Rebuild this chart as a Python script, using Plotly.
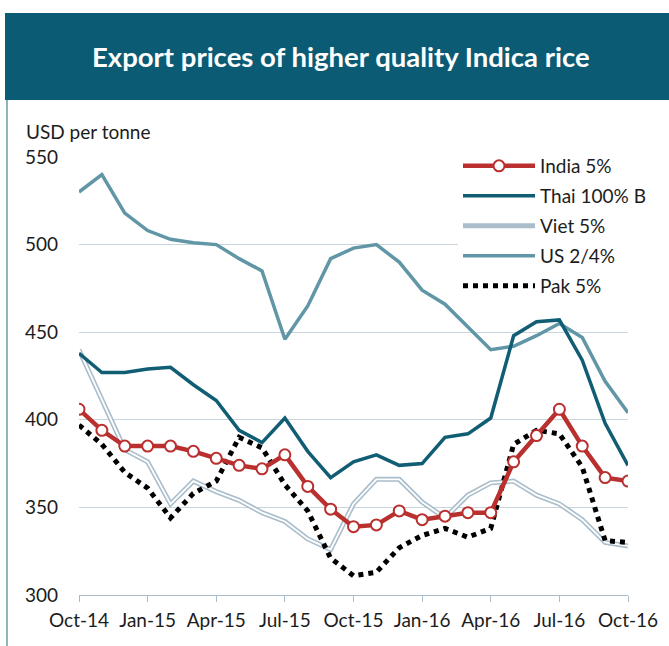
import plotly.graph_objects as go

months = ["Oct-14", "Nov-14", "Dec-14", "Jan-15", "Feb-15", "Mar-15", "Apr-15",
          "May-15", "Jun-15", "Jul-15", "Aug-15", "Sep-15", "Oct-15", "Nov-15",
          "Dec-15", "Jan-16", "Feb-16", "Mar-16", "Apr-16", "May-16", "Jun-16",
          "Jul-16", "Aug-16", "Sep-16", "Oct-16"]

india = [406, 394, 385, 385, 385, 382, 378, 374, 372, 380, 362, 349, 339, 340,
         348, 343, 345, 347, 347, 376, 391, 406, 385, 367, 365]
thai = [438, 427, 427, 429, 430, 420, 411, 394, 387, 401, 382, 367, 376, 380,
        374, 375, 390, 392, 401, 448, 456, 457, 434, 398, 374]
viet = [440, 412, 383, 376, 352, 365, 359, 354, 347, 342, 332, 326, 352, 366,
        366, 353, 344, 357, 364, 365, 357, 352, 343, 330, 328]
us = [530, 540, 518, 508, 503, 501, 500, 492, 485, 446, 465, 492, 498, 500,
      490, 474, 466, 453, 440, 442, 448, 455, 447, 422, 404]
pak = [397, 386, 370, 361, 344, 358, 365, 390, 384, 363, 348, 321, 311, 313,
       327, 334, 338, 333, 338, 386, 394, 392, 373, 331, 330]

tick_labels = months[::3]
y_ticks = [300, 350, 400, 450, 500, 550]

TITLE = "Export prices of higher quality Indica rice"
FONT = "Lato"
TXT = "#1c1c1c"

fig = go.Figure()

fig.add_trace(go.Scatter(x=months, y=viet, name="Viet 5%", mode="lines",
                         line=dict(color="#A9BDCB", width=5),
                         legendgroup="viet", legendrank=3))
fig.add_trace(go.Scatter(x=months, y=viet, name="Viet 5%", mode="lines",
                         line=dict(color="#FFFFFF", width=1.8),
                         legendgroup="viet", showlegend=False, hoverinfo="skip"))
fig.add_trace(go.Scatter(x=months, y=us, name="US 2/4%", mode="lines",
                         line=dict(color="#6096A6", width=3.5),
                         legendgroup="us", legendrank=4))
fig.add_trace(go.Scatter(x=months, y=thai, name="Thai 100% B", mode="lines",
                         line=dict(color="#105D74", width=3.5),
                         legendgroup="thai", legendrank=2))
fig.add_trace(go.Scatter(x=months, y=pak, name="Pak 5%", mode="lines",
                         line=dict(color="#000000", width=5, dash="5px,5px"),
                         legendgroup="pak", legendrank=5))
fig.add_trace(go.Scatter(x=months, y=india, name="India 5%", mode="lines+markers",
                         line=dict(color="#B9302F", width=4.5),
                         marker=dict(symbol="circle", size=11, color="#FFFFFF",
                                     line=dict(color="#B9302F", width=2)),
                         legendgroup="india", legendrank=1))

W, H = 669, 646
L, R, T, B = 79, 41, 157, 51
pw, ph = W - L - R, H - T - B


def px_x(p):
    return (p - L) / pw


def px_y(p):
    return (H - B - p) / ph


# title banner and left frame line
fig.add_shape(type="rect", xref="paper", yref="paper",
              x0=px_x(5), x1=px_x(670), y0=px_y(100), y1=px_y(13),
              fillcolor="#0A5B73", line=dict(width=0), layer="above")
fig.add_shape(type="line", xref="paper", yref="paper",
              x0=px_x(7), x1=px_x(7), y0=px_y(100), y1=px_y(646),
              line=dict(color="#8FB3BF", width=2))
# white backing behind the legend (hides gridlines there)
fig.add_shape(type="rect", xref="paper", yref="paper",
              x0=px_x(443), x1=px_x(470), y0=px_y(305), y1=px_y(145),
              fillcolor="#FFFFFF", line=dict(width=0), layer="between")

fig.add_annotation(text="<b>" + TITLE + "</b>", xref="paper", yref="paper",
                   x=px_x(341), y=px_y(57), xanchor="center", yanchor="middle",
                   showarrow=False, font=dict(family=FONT, size=27.5, color="#FFFFFF"))
fig.add_annotation(text="USD per tonne", xref="paper", yref="paper",
                   x=px_x(24), y=px_y(132), xanchor="left", yanchor="middle",
                   showarrow=False, font=dict(family=FONT, size=19, color=TXT))

fig.update_layout(
    width=W, height=H,
    margin=dict(l=L, r=R, t=T, b=B, pad=0),
    paper_bgcolor="#FFFFFF", plot_bgcolor="#FFFFFF",
    font=dict(family=FONT, size=19, color=TXT),
    showlegend=True,
    legend=dict(x=px_x(458), y=px_y(147), xanchor="left", yanchor="top",
                xref="paper", yref="paper",
                bgcolor="#FFFFFF", borderwidth=0,
                font=dict(family=FONT, size=19, color=TXT),
                itemwidth=72, tracegroupgap=2.3, traceorder="grouped"),
    xaxis=dict(type="category", range=[0, len(months) - 1],
               tickmode="array", tickvals=tick_labels, ticktext=tick_labels,
               showgrid=False, showline=True, linecolor="#A9BCCB", linewidth=1,
               ticks="outside", ticklen=6, tickcolor="#A9BCCB", tickwidth=1,
               ticklabelstandoff=2,
               tickfont=dict(family=FONT, size=19, color=TXT),
               zeroline=False, fixedrange=True),
    yaxis=dict(range=[300, 550], tickmode="array", tickvals=y_ticks,
               showgrid=True, gridcolor="#C9D6DE", gridwidth=1,
               showline=False, ticks="", zeroline=False,
               ticklabelstandoff=20,
               tickfont=dict(family=FONT, size=19, color=TXT), fixedrange=True),
)

fig.write_html("out.html", config={"displayModeBar": False},
               post_script="document.body.style.margin='0';")
